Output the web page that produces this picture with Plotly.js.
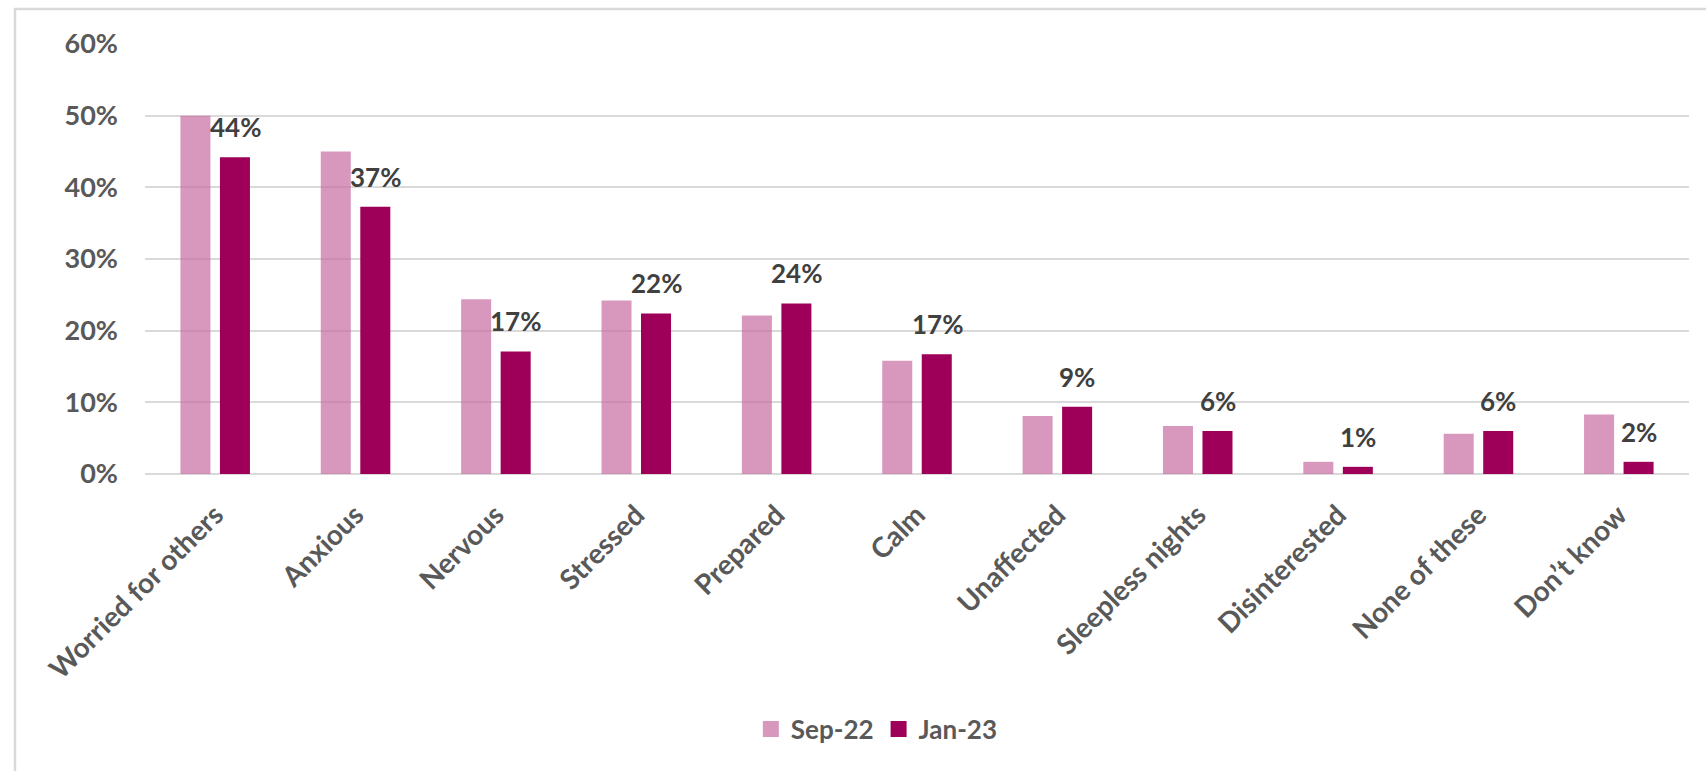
<!DOCTYPE html>
<html>
<head>
<meta charset="utf-8">
<script src="https://cdn.plot.ly/plotly-3.0.1.min.js"></script>
<style>
  html, body { margin: 0; padding: 0; background: #ffffff; }
  #chart { width: 1706px; height: 771px; }
</style>
</head>
<body>
<div id="chart"></div>
<script>
// ---- data ----
const categories = [
  "Worried for others", "Anxious", "Nervous", "Stressed", "Prepared", "Calm",
  "Unaffected", "Sleepless nights", "Disinterested", "None of these", "Don\u2019t know"
];
const sep22 = [0.500, 0.450, 0.244, 0.242, 0.221, 0.158, 0.081, 0.067, 0.017, 0.056, 0.083];
const jan23 = [0.442, 0.373, 0.171, 0.224, 0.238, 0.167, 0.094, 0.060, 0.010, 0.060, 0.017];
const seriesNames = ["Sep-22", "Jan-23"];
const yTickValues = [0, 0.1, 0.2, 0.3, 0.4, 0.5, 0.6];

const FONT = "Lato, 'Open Sans', sans-serif";
const SEP_COLOR = "rgb(200,108,162)";
const SEP_OPACITY = 0.7;
const JAN_COLOR = "#9e0059";

const traces = [
  {
    type: "bar",
    name: seriesNames[0],
    x: categories,
    y: sep22,
    marker: { color: SEP_COLOR, opacity: SEP_OPACITY },
    showlegend: false,
    hoverinfo: "x+y+name"
  },
  {
    type: "bar",
    name: seriesNames[1],
    x: categories,
    y: jan23,
    marker: { color: JAN_COLOR },
    showlegend: false,
    hoverinfo: "x+y+name"
  },
  // legend-only entries with larger square swatches
  {
    type: "scatter",
    mode: "markers",
    name: seriesNames[0],
    x: [null],
    y: [null],
    marker: { symbol: "square", size: 17, color: SEP_COLOR, opacity: SEP_OPACITY },
    showlegend: true
  },
  {
    type: "scatter",
    mode: "markers",
    name: seriesNames[1],
    x: [null],
    y: [null],
    marker: { symbol: "square", size: 17, color: JAN_COLOR },
    showlegend: true
  }
];

// data labels for Jan-23 series, placed above its bars
const annotations = categories.map((c, i) => ({
  x: c,
  y: jan23[i],
  xref: "x",
  yref: "y",
  text: Math.round(jan23[i] * 100) + "%",
  showarrow: false,
  xanchor: "center",
  yanchor: "bottom",
  xshift: 20,
  yshift: 12,
  font: { family: FONT, size: 26, color: "#404040", weight: "bold" }
}));

const layout = {
  width: 1706,
  height: 771,
  margin: { l: 145, r: 17, t: 44, b: 297, pad: 0 },
  paper_bgcolor: "#ffffff",
  plot_bgcolor: "#ffffff",
  barmode: "group",
  bargap: 0.437,
  bargroupgap: 0.24,
  font: { family: FONT, color: "#595959" },
  xaxis: {
    type: "category",
    categoryarray: categories,
    tickangle: -45,
    ticks: "",
    showgrid: false,
    showline: false,
    zeroline: false,
    ticklabelstandoff: 18,
    tickfont: { family: FONT, size: 28, color: "#595959", weight: "bold" }
  },
  yaxis: {
    range: [0, 0.6],
    tickvals: yTickValues,
    tickformat: ".0%",
    ticks: "",
    showgrid: true,
    gridcolor: "#d9d9d9",
    gridwidth: 2,
    zeroline: true,
    zerolinecolor: "#d9d9d9",
    zerolinewidth: 2,
    showline: false,
    ticklabelstandoff: 26,
    tickfont: { family: FONT, size: 27, color: "#595959", weight: "bold" }
  },
  legend: {
    orientation: "h",
    x: 0.474,
    xanchor: "center",
    y: -0.593,
    yanchor: "middle",
    font: { family: FONT, size: 26, color: "#595959", weight: "bold" },
    itemwidth: 30,
    traceorder: "normal"
  },
  annotations: annotations,
  shapes: [
    {
      type: "rect",
      xref: "paper",
      yref: "paper",
      x0: -0.0842,
      x1: 1.05,
      y0: -0.75,
      y1: 1.0814,
      line: { color: "#d9d9d9", width: 2.5 },
      fillcolor: "rgba(0,0,0,0)",
      layer: "below"
    }
  ],
  showlegend: true
};

Plotly.newPlot("chart", traces, layout, { displayModeBar: false, staticPlot: true });
</script>
</body>
</html>
